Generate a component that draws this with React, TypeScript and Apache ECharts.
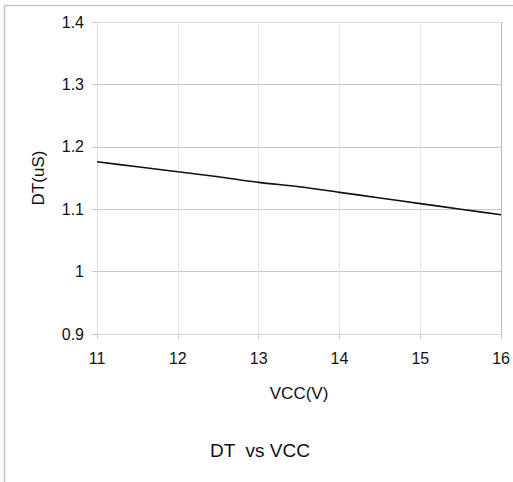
import React, { useEffect, useRef } from "react";
import * as echarts from "echarts";

const vcc = [11, 11.5, 12, 12.5, 13, 13.5, 14, 14.5, 15, 15.5, 16];
const dt = [1.176, 1.168, 1.16, 1.152, 1.143, 1.136, 1.127, 1.118, 1.109, 1.1, 1.091];
const title = "DT  vs VCC";
const xName = "VCC(V)";
const yName = "DT(uS)";

export default function App() {
  const ref = useRef<HTMLDivElement>(null);
  useEffect(() => {
    if (!ref.current) return;
    const chart = echarts.init(ref.current, null, { renderer: "svg" });
    const font = "Liberation Sans, Arial, sans-serif";
    chart.setOption({
      animation: false,
      backgroundColor: "#ffffff",
      grid: { left: 97, top: 22, right: 10, bottom: 148, containLabel: false },
      xAxis: {
        type: "value",
        min: 11,
        max: 16,
        interval: 1,
        name: xName,
        nameLocation: "middle",
        nameGap: 51,
        nameTextStyle: { fontFamily: font, fontSize: 17, color: "#111" },
        axisLine: { show: true, lineStyle: { color: "#d4d4d4", width: 1 } },
        axisTick: { show: true, length: 5, lineStyle: { color: "#c8c8c8" } },
        axisLabel: { fontFamily: font, fontSize: 16, color: "#111", margin: 16 },
        splitLine: {
          show: true,
          lineStyle: { color: ["#e4e4e4", "#e4e4e4", "#e4e4e4", "#e4e4e4", "#e4e4e4", "#bcbcbc"], width: 1 },
        },
      },
      yAxis: {
        type: "value",
        min: 0.9,
        max: 1.4,
        interval: 0.1,
        name: yName,
        nameLocation: "middle",
        nameGap: 50,
        nameRotate: 90,
        nameTextStyle: { fontFamily: font, fontSize: 17, color: "#111" },
        axisLine: { show: true, lineStyle: { color: "#e0e0e0", width: 1 } },
        axisTick: { show: true, length: 5, lineStyle: { color: "#c8c8c8" } },
        axisLabel: {
          fontFamily: font,
          fontSize: 16,
          color: "#111",
          margin: 13,
          formatter: (v: number) => String(Math.round(v * 10) / 10),
        },
        splitLine: {
          show: true,
          lineStyle: { color: ["#dcdcdc", "#c8c8c8", "#c8c8c8", "#c8c8c8", "#c8c8c8", "#dcdcdc"], width: 1 },
        },
      },
      series: [
        {
          type: "line",
          data: vcc.map((x, i) => [x, dt[i]]),
          showSymbol: false,
          smooth: 0.3,
          lineStyle: { color: "#111111", width: 1.6 },
        },
      ],
      graphic: [
        {
          type: "line",
          shape: { x1: 4.5, y1: 5.5, x2: 4.5, y2: 482 },
          style: { stroke: "#c4c4c4", lineWidth: 1.5 },
        },
        {
          type: "line",
          shape: { x1: 4.5, y1: 5.5, x2: 513, y2: 5.5 },
          style: { stroke: "#c4c4c4", lineWidth: 1.5 },
        },
        {
          type: "text",
          x: 260,
          y: 450,
          style: {
            text: title,
            fontFamily: font,
            fontSize: 19,
            fill: "#111",
            align: "center",
            verticalAlign: "middle",
          },
        },
      ],
    });
    return () => chart.dispose();
  }, []);
  return (
    <div
      ref={ref}
      style={{ position: "fixed", left: 0, top: 0, width: 513, height: 482 }}
    />
  );
}
